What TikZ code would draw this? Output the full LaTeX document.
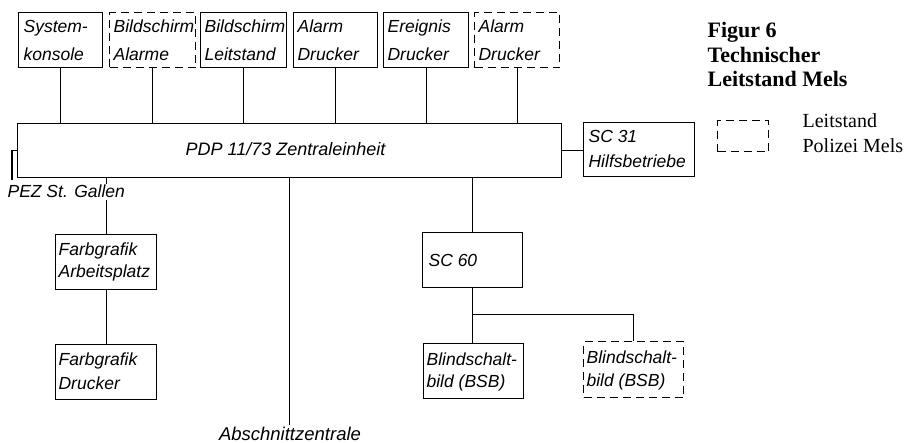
\documentclass[tikz,border=0pt]{standalone}
\usepackage{fontspec}
\setmainfont{Liberation Serif}
\setsansfont{Liberation Sans}
\usetikzlibrary{calc}
\newcommand\boxtext[6]{%
  \node[lbl] (#1a) at ($(#1.north west)+(#2,#3)$) {#5};%
  \node[lbl] (#1b) at ($(#1.north west)+(#2,#4)$) {#6};}
\begin{document}
\begin{tikzpicture}[x=1pt,y=-1pt, line width=1.2pt,
  box/.style={draw, rectangle, inner sep=0pt, anchor=north west},
  dbox/.style={box, dash pattern=on 8pt off 5pt},
  lbl/.style={font=\sffamily\itshape\fontsize{17.5}{20}\selectfont, inner sep=0pt, anchor=base west},
  ttl/.style={font=\fontsize{22}{24}\selectfont\bfseries, inner sep=0pt, anchor=base west},
  leg/.style={font=\fontsize{20}{24}\selectfont, inner sep=0pt, anchor=base west}]
\useasboundingbox (0,0) rectangle (904,443);
% top row
\node[box, minimum width=84pt, minimum height=55pt] (sys) at (18,12) {};
\node[dbox, minimum width=86pt, minimum height=55pt] (alb) at (109,12) {};
\node[box, minimum width=86pt, minimum height=55pt] (lst) at (200,12) {};
\node[box, minimum width=84pt, minimum height=55pt] (ad1) at (293,12) {};
\node[box, minimum width=85pt, minimum height=55pt] (ed) at (383,12) {};
\node[dbox, minimum width=85pt, minimum height=55pt] (ad2) at (474,12) {};
\boxtext{sys}{5}{21}{49}{System-}{konsole}
\boxtext{alb}{4}{21}{49}{Bildschirm}{Alarme}
\boxtext{lst}{4}{21}{49}{Bildschirm}{Leitstand}
\boxtext{ad1}{4}{21}{49}{Alarm}{Drucker}
\boxtext{ed}{4}{21}{49}{Ereignis}{Drucker}
\boxtext{ad2}{4}{21}{49}{Alarm}{Drucker}
% main
\node[box, minimum width=544pt, minimum height=54pt] (main) at (17,123) {};
\node[lbl, anchor=base, font=\sffamily\itshape\fontsize{18}{20}\selectfont] (mainl) at (285.5,156) {PDP 11/73 Zentraleinheit};
\foreach \n in {sys,alb,lst,ad1,ed,ad2} \draw (\n.south) -- (\n.south |- main.north);
% SC 31
\node[box, minimum width=111pt, minimum height=54pt] (sc31) at (583,122) {};
\boxtext{sc31}{5}{21}{46}{SC 31}{Hilfsbetriebe}
\draw (main.east) -- (main.east -| sc31.west);
% PEZ
\coordinate (pez) at (12,180);
\draw (main.west) -| (pez);
% Farbgrafik
\node[box, minimum width=101pt, minimum height=55pt] (fa1) at (55,234) {};
\boxtext{fa1}{3}{22}{44}{Farbgrafik}{Arbeitsplatz}
\node[box, minimum width=101pt, minimum height=55pt] (fa2) at (55,344) {};
\boxtext{fa2}{3}{21}{45}{Farbgrafik}{Drucker}
\draw (fa1.north |- main.south) -- (fa1.north);
\draw (fa1.south) -- (fa1.south |- fa2.north);
\node[lbl, fill=white, inner sep=1.5pt] (pezl) at (5.5,198) {PEZ St. Gallen};
% Abschnittzentrale
\coordinate (abs) at (289.5,425);
\draw (abs |- main.south) -- (abs);
\node[lbl, anchor=base, font=\sffamily\itshape\fontsize{18.5}{20}\selectfont] (absl) at (290,440) {Abschnittzentrale};
% SC 60
\node[box, minimum width=100pt, minimum height=55pt] (sc60) at (422,232) {};
\node[lbl] (sc60a) at ($(sc60.north west)+(6,35)$) {SC 60};
\draw (sc60.north |- main.south) -- (sc60.north);
\node[box, minimum width=100pt, minimum height=55pt] (bs1) at (423,343) {};
\boxtext{bs1}{3}{22}{44}{Blindschalt-}{bild (BSB)}
\node[dbox, minimum width=100pt, minimum height=56pt] (bs2) at (583,341) {};
\boxtext{bs2}{3}{22}{45}{Blindschalt-}{bild (BSB)}
\draw (sc60.south) -- (sc60.south |- bs1.north);
\coordinate (br) at (472,314.5);
\draw (br) -| (bs2.north);
% title and legend
\node[ttl] (t1) at (707,38) {Figur 6};
\node[ttl] (t2) at (707,63) {Technischer};
\node[ttl] (t3) at (707,87) {Leitstand Mels};
\node[dbox, minimum width=51pt, minimum height=31pt] (lg) at (717,120) {};
\node[leg] (lg1) at (802,128) {Leitstand};
\node[leg] (lg2) at (802,153) {Polizei Mels};
\end{tikzpicture}
\end{document}
